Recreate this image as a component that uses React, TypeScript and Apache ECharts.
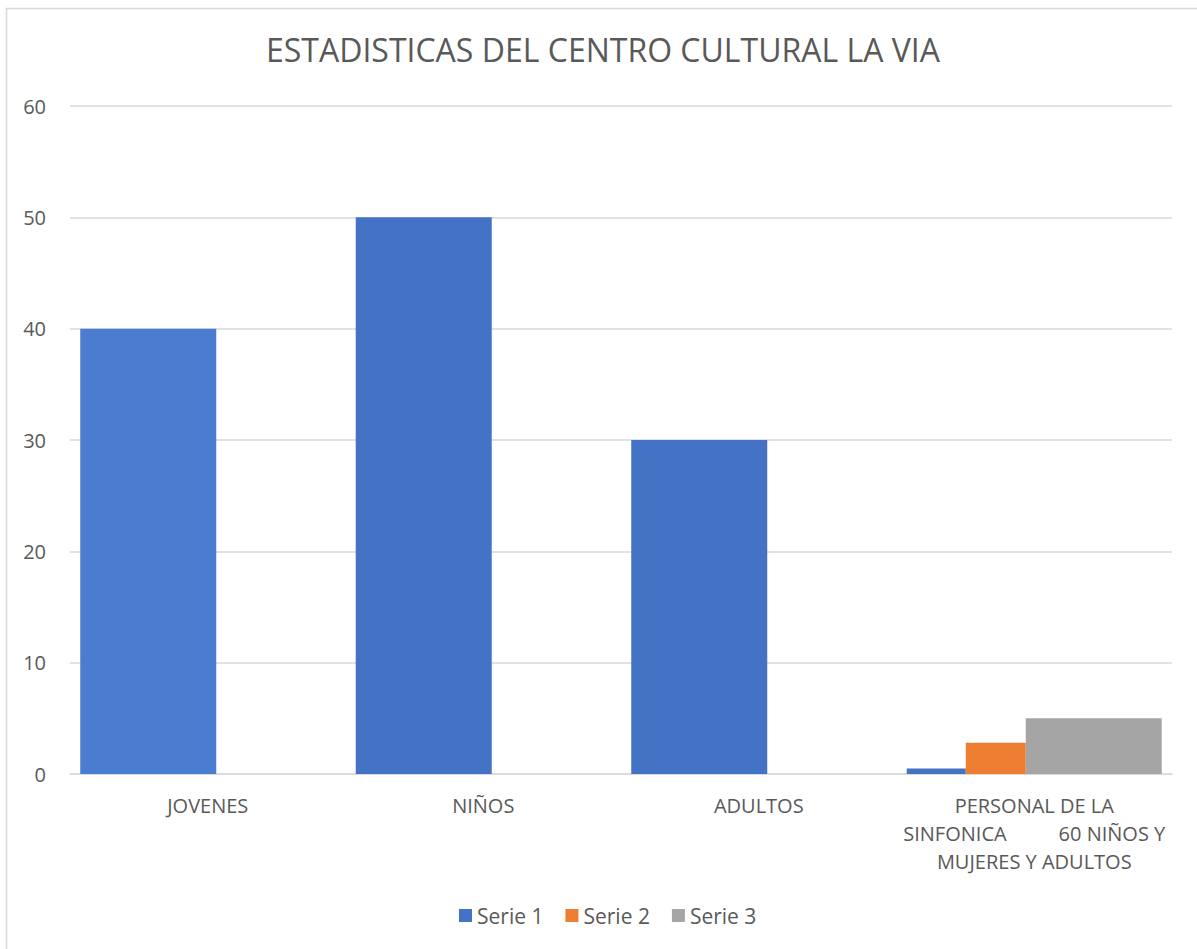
import React, { useEffect, useRef } from "react";
import * as echarts from "echarts";

const categories = [
  "JOVENES",
  "NIÑOS",
  "ADULTOS",
  "PERSONAL DE LA\nSINFONICA          60 NIÑOS Y\nMUJERES Y ADULTOS",
];
const serie1 = [40, 50, 30, 0.5];
const serie2 = [0, 0, 0, 2.8];
const serie3 = [0, 0, 0, 5];
const yTicks = { min: 0, max: 60, interval: 10 };

const TEXT = "#595959";
const GRID = "#d9d9d9";
const FONT = "'Open Sans', 'Noto Sans', sans-serif";

export default function App() {
  const ref = useRef<HTMLDivElement>(null);
  useEffect(() => {
    if (!ref.current) return;
    const chart = echarts.init(ref.current, undefined, { renderer: "svg" });
    const last = categories.length - 1;
    const firstPart = serie1.map((v, i) => (i < last ? v : null));
    const lastOnly = (arr: number[]) => arr.map((v, i) => (i === last ? v : null));
    chart.setOption({
      animation: false,
      textStyle: { fontFamily: FONT },
      title: {
        text: "ESTADISTICAS DEL CENTRO CULTURAL LA VIA",
        left: 261,
        top: 28,
        textStyle: { color: TEXT, fontSize: 32, fontWeight: "normal", fontFamily: FONT },
      },
      graphic: [
        {
          type: "rect",
          shape: { x: 6.5, y: 8.5, width: 1400, height: 1200 },
          style: { fill: "none", stroke: GRID, lineWidth: 1.5 },
          silent: true,
        },
      ],
      legend: {
        data: ["Serie 1", "Serie 2", "Serie 3"],
        bottom: 18,
        left: 454,
        itemWidth: 13,
        itemHeight: 13,
        itemGap: 22,
        icon: "rect",
        textStyle: { color: TEXT, fontSize: 21, fontFamily: FONT },
      },
      grid: { left: 70, right: 25, top: 106, bottom: 175 },
      xAxis: [
        {
          type: "category",
          data: categories,
          axisLine: { lineStyle: { color: GRID, width: 1.5 } },
          axisTick: { show: false },
          axisLabel: {
            color: TEXT,
            fontSize: 20,
            margin: 17,
            lineHeight: 28,
            interval: 0,
            fontFamily: FONT,
          },
        },
        { type: "category", data: categories, show: false },
      ],
      yAxis: {
        type: "value",
        min: yTicks.min,
        max: yTicks.max,
        interval: yTicks.interval,
        axisLine: { show: false },
        axisTick: { show: false },
        splitLine: { lineStyle: { color: GRID, width: 1.5 } },
        axisLabel: { color: TEXT, fontSize: 20, margin: 24, fontFamily: FONT },
      },
      series: [
        {
          name: "Serie 1",
          type: "bar",
          xAxisIndex: 0,
          barWidth: 136,
          barGap: 0,
          itemStyle: { color: "#4472C4" },
          data: firstPart.map((v, i) =>
            i === 0 ? { value: v, itemStyle: { color: "#4A7CD0" } } : v
          ),
        },
        {
          name: "_spacer",
          type: "bar",
          xAxisIndex: 0,
          barWidth: 119,
          barGap: 0,
          silent: true,
          data: categories.map(() => null),
        },
        {
          name: "Serie 1",
          type: "bar",
          xAxisIndex: 1,
          barWidth: 59,
          barGap: 0,
          itemStyle: { color: "#4472C4" },
          data: lastOnly(serie1),
        },
        {
          name: "Serie 2",
          type: "bar",
          xAxisIndex: 1,
          barWidth: 60,
          barGap: 0,
          itemStyle: { color: "#ED7D31" },
          data: lastOnly(serie2),
        },
        {
          name: "Serie 3",
          type: "bar",
          xAxisIndex: 1,
          barWidth: 136,
          barGap: 0,
          itemStyle: { color: "#A5A5A5" },
          data: lastOnly(serie3),
        },
      ],
    });
    return () => chart.dispose();
  }, []);
  return (
    <div
      ref={ref}
      style={{ position: "absolute", left: 0, top: 0, width: 1197, height: 949, background: "#fff" }}
    />
  );
}
